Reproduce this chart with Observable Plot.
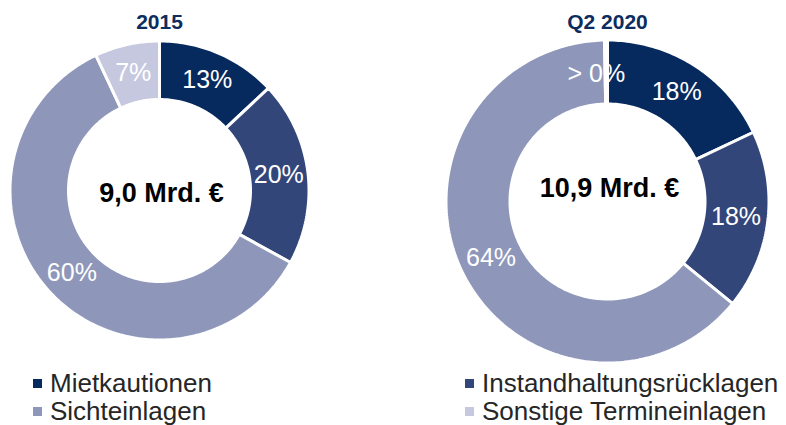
<!DOCTYPE html>
<html>
<head>
<meta charset="utf-8">
<script src="https://cdn.jsdelivr.net/npm/d3@7"></script>
<script src="https://cdn.jsdelivr.net/npm/@observablehq/plot@0.6"></script>
<style>
  html, body { margin: 0; padding: 0; background: #fff; }
  body { width: 786px; height: 425px; overflow: hidden; font-family: "Liberation Sans", Arial, sans-serif; }
  #chart svg { display: block; }
  #legend { position: relative; height: 60px; }
  .item { position: absolute; font-size: 26px; line-height: 28px; color: #262626; white-space: nowrap; }
  .sw { display: inline-block; width: 9px; height: 9px; margin-right: 8px; vertical-align: middle; position: relative; top: -2px; }
</style>
</head>
<body>
<div id="chart"></div>
<div id="legend"></div>
<script>
// ---- data ----
const categories = ["Mietkautionen", "Instandhaltungsrücklagen", "Sichteinlagen", "Sonstige Termineinlagen"];
const colors = ["#062a5e", "#33467a", "#8e97ba", "#c5c8df"];
const charts = ["2015", "Q2 2020"];
const values2015 = [13, 20, 60, 7];
const values2020 = [18, 18, 64, 0.3];
const labels2015 = ["13%", "20%", "60%", "7%"];
const labels2020 = ["18%", "18%", "64%", "> 0%"];
const totals = ["9,0 Mrd. €", "10,9 Mrd. €"];

// ---- layout ----
const layout = [
  {cx: 159, cy: 190, ro: 148, ri: 92.5, ty: 193, tx: 161},
  {cx: 607, cy: 201, ro: 160, ri: 99, ty: 188, tx: 609}
];
const W = 786, H = 365;

const series = [values2015, values2020];
const labelSets = [labels2015, labels2020];

const polys = [];
const labelRows = [];
charts.forEach((chart, ci) => {
  const L = layout[ci];
  const vals = series[ci];
  const pie = d3.pie().sort(null).value(d => d)(vals);
  pie.forEach((p, i) => {
    const key = chart + "-" + i;
    const a0 = p.startAngle, a1 = p.endAngle;
    const n = Math.max(2, Math.ceil((a1 - a0) / (Math.PI / 180)));
    const ro = L.ro + 1.5, ri = L.ri - 1.5;
    for (let k = 0; k <= n; k++) {
      const a = a0 + (a1 - a0) * k / n;
      polys.push({key, category: categories[i], x: L.cx + ro * Math.sin(a), y: L.cy - ro * Math.cos(a)});
    }
    for (let k = n; k >= 0; k--) {
      const a = a0 + (a1 - a0) * k / n;
      polys.push({key, category: categories[i], x: L.cx + ri * Math.sin(a), y: L.cy - ri * Math.cos(a)});
    }
    const am = (a0 + a1) / 2, rm = (L.ro + L.ri) / 2;
    labelRows.push({chart, tiny: vals[i] < 1, text: labelSets[ci][i], x: L.cx + rm * Math.sin(am), y: L.cy - rm * Math.cos(am)});
  });
});

const titleRows = charts.map((c, i) => ({text: c, x: layout[i].cx, y: 22}));
const totalRows = totals.map((t, i) => ({text: t, x: layout[i].tx, y: layout[i].ty}));

const plot = Plot.plot({
  width: W,
  height: H,
  margin: 0,
  x: {type: "identity", axis: null},
  y: {type: "identity", axis: null},
  color: {domain: categories, range: colors},
  style: {fontFamily: "Liberation Sans, Arial, sans-serif", background: "#fff"},
  marks: [
    Plot.line(polys, {x: "x", y: "y", z: "key", fill: "category", stroke: "white", strokeWidth: 3, curve: "linear-closed", strokeLinejoin: "miter"}),
    Plot.text(labelRows.filter(d => !d.tiny), {x: "x", y: "y", text: "text", fill: "white", fontSize: 25}),
    Plot.text(labelRows.filter(d => d.tiny), {x: "x", y: "y", text: "text", fill: "white", fontSize: 25, dx: -10, dy: 2}),
    Plot.text(titleRows, {x: "x", y: "y", text: "text", fill: "#0c2d5e", fontSize: 21, fontWeight: "bold"}),
    Plot.text(totalRows, {x: "x", y: "y", text: "text", fill: "#000", fontSize: 27, fontWeight: "bold"})
  ]
});
document.getElementById("chart").appendChild(plot);

// legend
const legend = document.getElementById("legend");
const pos = [[33, 4], [465, 4], [33, 32], [465, 32]];
categories.forEach((c, i) => {
  const d = document.createElement("div");
  d.className = "item";
  d.style.left = pos[i][0] + "px";
  d.style.top = pos[i][1] + "px";
  const s = document.createElement("span");
  s.className = "sw";
  s.style.background = colors[i];
  d.appendChild(s);
  d.appendChild(document.createTextNode(c));
  legend.appendChild(d);
});
</script>
</body>
</html>
